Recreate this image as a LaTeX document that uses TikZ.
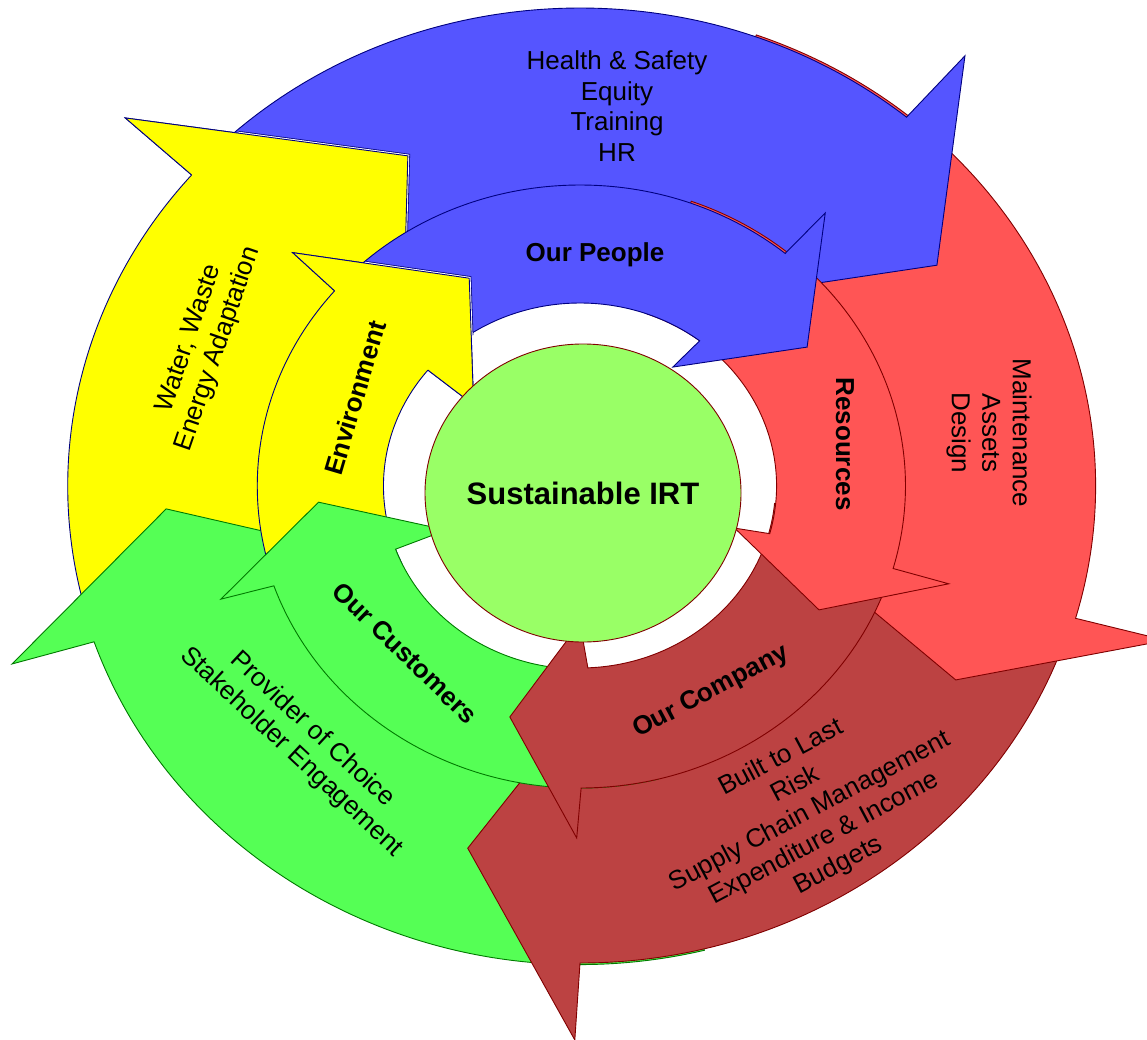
\documentclass[tikz,border=0pt]{standalone}
\usepackage{fontspec}
\setmainfont{Liberation Sans}
\usetikzlibrary{calc}
\definecolor{ycol}{HTML}{FFFF00}
\definecolor{navyline}{HTML}{000080}
\definecolor{bcol}{HTML}{5555FF}
\definecolor{rcol}{HTML}{FF5555}
\definecolor{maroonline}{HTML}{800000}
\definecolor{dcol}{HTML}{BC4242}
\definecolor{gcol}{HTML}{55FF55}
\definecolor{greenline}{HTML}{007A00}
\definecolor{ccol}{HTML}{99FF66}
\begin{document}
\begin{tikzpicture}[x=1pt,y=1pt,
  band/.style={line width=0.9pt, line join=miter, miter limit=20},
  yband/.style={band, fill=ycol, draw=navyline},
  bband/.style={band, fill=bcol, draw=navyline},
  rband/.style={band, fill=rcol, draw=maroonline},
  dband/.style={band, fill=dcol, draw=maroonline},
  gband/.style={band, fill=gcol, draw=greenline},
  txt/.style={align=center, inner sep=0pt, font=\fontsize{26}{30.5}\selectfont},
  btxt/.style={align=center, inner sep=0pt, font=\fontsize{26}{30.5}\selectfont\bfseries},
]
\path[use as bounding box] (0,0) rectangle (1147,-1040);
\fill[white] (0,0) rectangle (1147,-1040);

% ---------- outer ring of circular arrows ----------
\begin{scope}[shift={(580,-486)}, xscale=1.074]
\path[yband] (205:477) arc[start angle=205, end angle=139.3, radius=477]
  -- (139:561) -- (115.9:367) -- (139.2:218) -- (139.3:300)
  arc[start angle=139.3, end angle=205, radius=300] -- cycle;
\path[gband] (284:478.5) arc[start angle=284, end angle=199, radius=478.5]
  -- (198.6:558) -- (183.4:386) -- (199:211) -- (199:300)
  arc[start angle=199, end angle=284, radius=300] -- cycle;
\path[dband] (354.5:477) arc[start angle=354.5, end angle=270, radius=477]
  -- (269.5:554) -- (253.9:377) -- (270:221) -- (270:300)
  arc[start angle=270, end angle=354.5, radius=300] -- cycle;
\path[rband] (70:480) arc[start angle=70, end angle=-16, radius=480]
  -- (-15.8:567) -- (-29:400) -- (-16:204) -- (-16:300)
  arc[start angle=-16, end angle=70, radius=300] -- cycle;
\path[bband] (136:478) arc[start angle=136, end angle=50.5, radius=478]
  -- (50.2:560) -- (33.6:399) -- (50.5:250) -- (50.5:300)
  arc[start angle=50.5, end angle=136, radius=300] -- cycle;
\coordinate (yoN) at (139.3:477);
\coordinate (yoB) at (139:561);
\coordinate (yoT) at (115.9:367);
\coordinate (yoI) at (139.2:218);
\coordinate (yoM) at (139.3:300);
\end{scope}
% yellow head laid over the tail of the blue arrow
\draw[navyline, line width=4.4pt] ($(yoB)!0.40!(yoT)$) -- (yoT) -- ($(yoT)!0.6!(yoI)$);
\draw[white, line width=2.8pt] ($(yoB)!0.40!(yoT)$) -- (yoT) -- ($(yoT)!0.6!(yoI)$);
\fill[ycol] (yoN) -- (yoB) -- (yoT) -- (yoI) -- (yoM) -- cycle;
\draw[band, navyline] (yoN) -- (yoB) -- (yoT) -- (yoI) -- (yoM);

% ---------- inner ring of circular arrows ----------
\begin{scope}[shift={(580,-486)}, xscale=1.074]
\path[yband] (205:300.5) arc[start angle=205, end angle=139.5, radius=300.5]
  -- (138.9:355) -- (116.4:232) -- (140.7:128) -- (140.7:183)
  arc[start angle=140.7, end angle=205, radius=183] -- cycle;
\path[gband] (284:302) arc[start angle=284, end angle=199.3, radius=302]
  -- (198.7:353) -- (183.8:244) -- (199.5:132) -- (200.2:183)
  arc[start angle=200.2, end angle=284, radius=183] -- cycle;
\path[dband] (354.5:302) arc[start angle=354.5, end angle=270.2, radius=302]
  -- (269.5:352) -- (254.2:240) -- (270:137) -- (272.3:182)
  arc[start angle=272.3, end angle=354.5, radius=182] -- cycle;
\path[rband] (70:303) arc[start angle=70, end angle=-15.8, radius=303]
  -- (-15.9:357) -- (-29.1:254.7) -- (-16.3:150) -- (-15.1:183)
  arc[start angle=-15.1, end angle=70, radius=183] -- cycle;
\path[bband] (136:301) arc[start angle=136, end angle=50.6, radius=301]
  -- (50.1:356) -- (33.3:253) -- (54:147) -- (52.5:183)
  arc[start angle=52.5, end angle=136, radius=183] -- cycle;
\coordinate (yiN) at (139.5:300.5);
\coordinate (yiB) at (138.9:355);
\coordinate (yiT) at (116.4:232);
\coordinate (yiI) at (140.7:128);
\coordinate (yiM) at (140.7:183);
\end{scope}
\draw[navyline, line width=4.4pt] ($(yiB)!0.41!(yiT)$) -- (yiT) -- ($(yiT)!0.45!(yiI)$);
\draw[white, line width=2.8pt] ($(yiB)!0.41!(yiT)$) -- (yiT) -- ($(yiT)!0.45!(yiI)$);
\fill[ycol] (yiN) -- (yiB) -- (yiT) -- (yiI) -- (yiM) -- cycle;
\draw[band, navyline] (yiN) -- (yiB) -- (yiT) -- (yiI) -- (yiM);

% ---------- hub ----------
\path[fill=ccol, draw=maroonline, line width=0.9pt] (583,-493) ellipse [x radius=158, y radius=149];
\node[inner sep=0pt, font=\fontsize{31}{36}\selectfont\bfseries] (core) at (583,-493) {Sustainable IRT};

% ---------- labels ----------
\node[txt] (people-topics) at (617,-106) {Health \& Safety\\Equity\\Training\\HR};
\node[btxt] (people) at (595,-255) {Our People};
\node[btxt, rotate=-90] (resources) at (845,-444) {Resources};
\node[txt, rotate=-90] (resources-topics) at (989,-433) {Maintenance\\Assets\\Design};
\node[btxt, rotate=73.5] (environment) at (355,-398) {Environment};
\node[txt, rotate=71] (environment-topics) at (204,-344) {Water, Waste\\Energy Adaptation};
\node[btxt, rotate=-44] (customers) at (405,-653) {Our Customers};
\node[txt, rotate=-43] (customers-topics) at (302,-741) {Provider of Choice\\Stakeholder Engagement};
\node[btxt, rotate=28] (company) at (711,-692) {Our Company};
\node[txt, rotate=28] (company-topics) at (810,-812) {Built to Last\\Risk\\Supply Chain Management\\Expenditure \& Income\\Budgets};
\end{tikzpicture}
\end{document}
